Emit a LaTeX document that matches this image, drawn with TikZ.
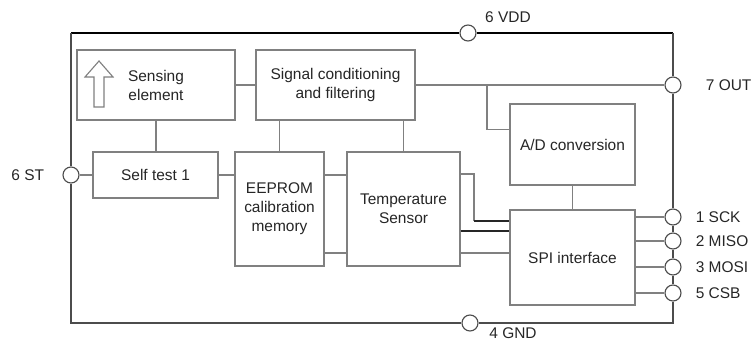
\documentclass[tikz,border=0pt]{standalone}
\usepackage{fontspec}
\setmainfont{Liberation Sans}
\usepackage{tikz}
\usetikzlibrary{positioning}
\definecolor{bdline}{gray}{0.5}
\definecolor{bdframe}{gray}{0.3}
\tikzset{
 bd box/.style={draw=bdline,line width=1pt,fill=white,align=center,
                inner sep=2pt,font=\fontsize{11}{13.5}\selectfont,text=black!85},
 bd wire/.style={draw=bdline,line width=0.9pt},
 bd bus/.style={draw=black!85,line width=1.1pt},
 bd frame/.style={draw=bdframe,line width=1pt},
 bd pin/.style={circle,draw=bdframe,fill=white,line width=0.8pt,
                minimum size=0.4cm,inner sep=0pt},
 bd pin label/.style={font=\fontsize{11}{13}\selectfont,inner sep=0pt,text=black!85}
}
\begin{document}
\begin{tikzpicture}[x=0.025cm,y=-0.025cm]
 \useasboundingbox (0,0) rectangle (753,340);
 \coordinate (tl) at (71,33);
 \coordinate (tr) at (673,33);
 \coordinate (bl) at (71,323);
 \coordinate (br) at (673,323);
 \coordinate (tap) at (487,85);
 \coordinate (bend) at (474,174);
 \coordinate (knee) at (474,221);
 \coordinate (yb) at (0,231);
 \coordinate (yd) at (0,253);

 \node[bd box,minimum width=3.95cm,minimum height=1.75cm] (sense) at (156,85) {Sensing\\element};
 \node[bd box,minimum width=3.975cm,minimum height=1.75cm] (sigc) at (335.5,85) {Signal conditioning\\and filtering};
 \node[bd box,minimum width=3.125cm,minimum height=1.15cm] (self) at (155.5,175) {Self test 1};
 \node[bd box,minimum width=2.225cm,minimum height=2.85cm] (eeprom) at (279.5,209) {EEPROM\\calibration\\memory};
 \node[bd box,minimum width=2.825cm,minimum height=2.85cm] (temp) at (403.5,209) {Temperature\\Sensor};
 \node[bd box,minimum width=3.125cm,minimum height=2.025cm] (adc) at (572.5,144.5) {A/D conversion};
 \node[bd box,minimum width=3.125cm,minimum height=2.375cm] (spi) at (572.5,257.5) {SPI interface};

 \node[bd pin] (vdd) at (468,33) {};
 \node[bd pin] (out) at (673,85) {};
 \node[bd pin] (st) at (71,175) {};
 \node[bd pin] (gnd) at (470,323) {};
 \foreach \p/\y in {sck/217,miso/241,mosi/267,csb/293}
   \node[bd pin] (\p) at (673,\y) {};

 \draw[bd frame,draw=black] (tl) -- (vdd) -- (tr);
 \draw[bd frame] (tr) -- (out) -- (sck) -- (miso) -- (mosi) -- (csb) -- (br)
   -- (gnd) -- (bl) -- (st) -- (tl);

 \draw[bdline,line width=0.8pt] (94,107) -- (94,77) -- (85,77) -- (99,61)
   -- (113,77) -- (104,77) -- (104,107) -- cycle;

 \draw[bd wire] (sense) -- (sigc);
 \draw[bd wire] (sense.south) -- (sense.south |- self.north);
 \draw[bd wire] (st) -- (self);
 \draw[bd wire] (self.east) -- (self.east -| eeprom.west);
 \draw[bd wire] (eeprom.north) -- (eeprom.north |- sigc.south);
 \draw[bd wire] (temp.north) -- (temp.north |- sigc.south);
 \draw[bd wire] (eeprom.east |- self.east) -- (temp.west |- self.east);
 \draw[bd wire] (eeprom.east |- yd) -- (temp.west |- yd);
 \draw[bd wire] (sigc) -- (out);
 \draw[bd wire] (tap) |- ([yshift=-0.65cm]adc.north west);
 \draw[bd wire] (adc) -- (spi);
 \draw[bd wire] (temp.east |- bend) -- (bend) -- (knee);
 \draw[bd bus] (knee) -- (spi.west |- knee);
 \draw[bd bus] (temp.east |- yb) -- (spi.west |- yb);
 \draw[bd wire] (temp.east |- yd) -- (spi.west |- yd);
 \foreach \p in {sck,miso,mosi,csb}
   \draw[bd wire] (spi.east |- \p) -- (\p);

 \node[bd pin label] at (508,17) {6 VDD};
 \node[bd pin label,right=0.6cm of out] {7 OUT};
 \node[bd pin label,left=0.45cm of st] {6 ST};
 \node[bd pin label] at (513,333) {4 GND};
 \foreach \p/\t in {sck/1 SCK,miso/2 MISO,mosi/3 MOSI,csb/5 CSB}
   \node[bd pin label,right=0.35cm of \p] {\t};
\end{tikzpicture}
\end{document}
